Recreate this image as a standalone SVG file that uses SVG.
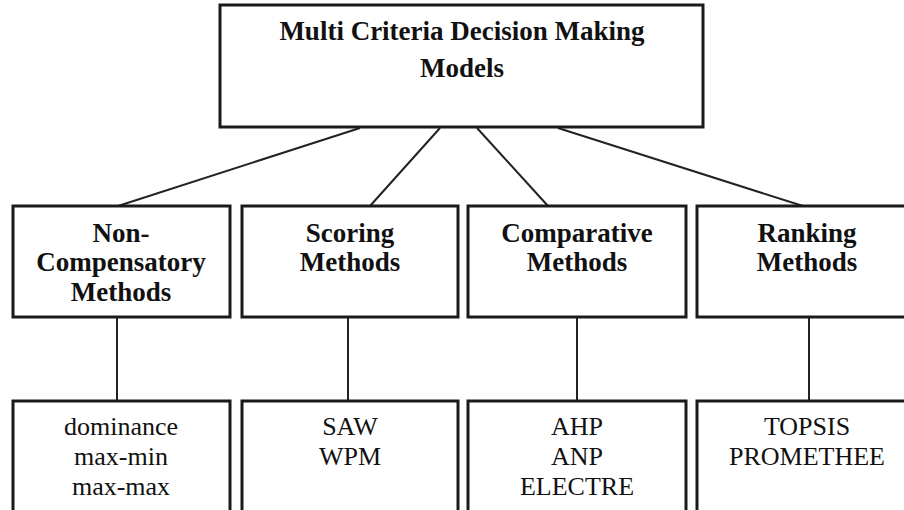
<svg xmlns="http://www.w3.org/2000/svg" width="904" height="510" viewBox="0 0 904 510">
<style>
.box{fill:#fff;stroke:#1a1a1a;stroke-width:3}
.h{font-family:"Liberation Serif",serif;font-weight:bold;font-size:27px;fill:#111;text-anchor:middle}
.l{font-family:"Liberation Serif",serif;font-size:26px;fill:#111;text-anchor:middle}
.c{stroke:#222;stroke-width:2;fill:none}
</style>
<rect width="904" height="510" fill="#fff"/>
<g id="connectors">
<line class="c" x1="360" y1="128" x2="118" y2="206"/>
<line class="c" x1="440" y1="128" x2="370" y2="206"/>
<line class="c" x1="477" y1="128" x2="548" y2="206"/>
<line class="c" x1="558" y1="128" x2="803" y2="206"/>
<line class="c" x1="117" y1="317" x2="117" y2="401"/>
<line class="c" x1="348" y1="317" x2="348" y2="401"/>
<line class="c" x1="577" y1="317" x2="577" y2="401"/>
<line class="c" x1="809" y1="317" x2="809" y2="401"/>
</g>
<g id="root">
<rect class="box" x="220" y="5" width="483" height="122"/>
<text class="h" x="462" y="40">Multi Criteria Decision Making</text>
<text class="h" x="462" y="77">Models</text>
</g>
<g id="noncomp">
<rect class="box" x="13" y="206" width="217" height="111"/>
<text class="h" x="121" y="242">Non-</text>
<text class="h" x="121" y="271">Compensatory</text>
<text class="h" x="121" y="301">Methods</text>
</g>
<g id="scoring">
<rect class="box" x="242" y="206" width="216" height="111"/>
<text class="h" x="350" y="242">Scoring</text>
<text class="h" x="350" y="271">Methods</text>
</g>
<g id="comparative">
<rect class="box" x="468" y="206" width="218" height="111"/>
<text class="h" x="577" y="242">Comparative</text>
<text class="h" x="577" y="271">Methods</text>
</g>
<g id="ranking">
<rect class="box" x="697" y="206" width="220" height="111"/>
<text class="h" x="807" y="242">Ranking</text>
<text class="h" x="807" y="271">Methods</text>
</g>
<g id="noncomp-items">
<rect class="box" x="13" y="401" width="217" height="120"/>
<text class="l" x="121" y="435">dominance</text>
<text class="l" x="121" y="465">max-min</text>
<text class="l" x="121" y="495">max-max</text>
</g>
<g id="scoring-items">
<rect class="box" x="242" y="401" width="216" height="120"/>
<text class="l" x="350" y="435">SAW</text>
<text class="l" x="350" y="465">WPM</text>
</g>
<g id="comparative-items">
<rect class="box" x="468" y="401" width="218" height="120"/>
<text class="l" x="577" y="435">AHP</text>
<text class="l" x="577" y="465">ANP</text>
<text class="l" x="577" y="495">ELECTRE</text>
</g>
<g id="ranking-items">
<rect class="box" x="697" y="401" width="220" height="120"/>
<text class="l" x="807" y="435">TOPSIS</text>
<text class="l" x="807" y="465">PROMETHEE</text>
</g>
</svg>
